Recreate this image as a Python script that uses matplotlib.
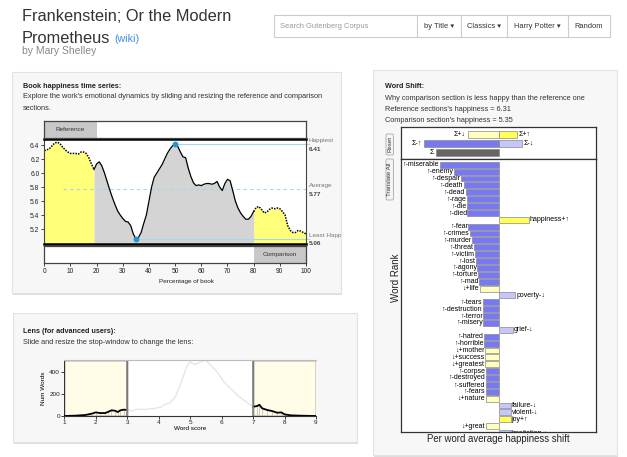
import matplotlib
matplotlib.use("Agg")
import matplotlib.pyplot as plt
import matplotlib.transforms as mtransforms
from matplotlib.patches import Rectangle, FancyBboxPatch
import numpy as np

# --- data ---
book_title = "Frankenstein; Or the Modern"
book_title2 = "Prometheus"
author = "by Mary Shelley"

# happiness time series (percentage of book, average happiness)
pct = np.arange(0, 101)
happiness = np.array([
    6.32, 6.33, 6.35, 6.39, 6.43, 6.44, 6.42, 6.37, 6.33, 6.30,
    6.28, 6.28, 6.28, 6.27, 6.30, 6.30, 6.28, 6.22, 6.13, 6.05,
    6.13, 6.16, 6.10, 6.00, 5.88, 5.76, 5.65, 5.55, 5.46, 5.40,
    5.35, 5.31, 5.30, 5.25, 5.13, 5.06, 5.08, 5.15, 5.28, 5.40,
    5.60, 5.80, 5.94, 6.00, 6.06, 6.12, 6.20, 6.28, 6.34, 6.39,
    6.41, 6.38, 6.30, 6.23, 6.22, 6.07, 5.95, 5.86, 5.82, 5.83,
    5.82, 5.84, 5.85, 5.85, 5.84, 5.85, 5.88, 5.80, 5.75, 5.85,
    5.91, 5.89, 5.75, 5.60, 5.50, 5.43, 5.38, 5.34, 5.34, 5.38,
    5.45, 5.51, 5.52, 5.48, 5.43, 5.44, 5.48, 5.50, 5.49, 5.50,
    5.49, 5.45, 5.40, 5.25, 5.18, 5.15, 5.15, 5.18, 5.17, 5.15,
    5.13])
average_happiness = 5.77
ref_window = (0, 19)
comp_window = (80, 100)

# lens: word score distribution
lens_score = [1.0, 1.34, 1.66, 1.87, 2.0, 2.14, 2.3, 2.4, 2.5, 2.62, 2.7, 2.78, 2.89,
              3.0, 3.13, 3.3, 3.57, 3.89, 4.1, 4.2, 4.37, 4.53, 4.74, 4.9, 5.0, 5.15,
              5.3, 5.49, 5.65, 5.86, 6.07, 6.28, 6.5, 6.71, 6.92, 7.0, 7.13, 7.2,
              7.29, 7.45, 7.61, 7.77, 7.9, 8.0, 8.2, 8.5, 9.0]
lens_count = [0, 3, 9, 21, 33, 27, 27, 39, 52, 48, 36, 52, 58,
              55, 45, 61, 61, 70, 85, 106, 121, 176, 327, 460, 495, 470,
              490, 515, 464, 403, 312, 252, 191, 145, 100, 85, 91, 103,
              70, 55, 45, 30, 33, 15, 6, 3, 0]
lens_stop = (3, 7)

# word shift
ref_happiness = 6.31
comp_happiness = 5.35
sum_labels = ["Σ+↓", "Σ+↑", "Σ-↑", "Σ-↓", "Σ"]
sum_values = [-0.315, 0.185, -0.768, 0.236, -0.646]
sum_rows = [0, 0, 1, 1, 2]
sum_kinds = ["pos_down", "pos_up", "neg_up", "neg_down", "total"]

words = ["miserable", "enemy", "despair", "death", "dead", "rage", "die", "died",
         "happiness", "fear", "crimes", "murder", "threat", "victim", "lost", "agony",
         "torture", "mad", "life", "poverty", "tears", "destruction", "terror", "misery",
         "grief", "hatred", "horrible", "mother", "success", "greatest", "corpse",
         "destroyed", "suffered", "fears", "nature", "failure", "violent", "joy", "great",
         "hesitation"]
shifts = [-0.602, -0.455, -0.386, -0.356, -0.338, -0.328, -0.322, -0.318,
          0.314, -0.308, -0.295, -0.267, -0.251, -0.244, -0.233, -0.216,
          -0.210, -0.199, -0.192, 0.174, -0.164, -0.164, -0.157, -0.157,
          0.150, -0.147, -0.147, -0.140, -0.140, -0.137, -0.133,
          -0.133, -0.133, -0.133, -0.130, 0.128, 0.128, 0.125, -0.130,
          0.13]
kinds = ["neg_up"] * 8 + ["pos_up"] + ["neg_up"] * 9 + ["pos_down", "neg_down"] + \
        ["neg_up"] * 4 + ["neg_down"] + ["neg_up"] * 2 + ["pos_down"] * 3 + \
        ["neg_up"] * 4 + ["pos_down", "neg_down", "neg_down", "pos_up", "pos_down", "neg_down"]

kind_colors = {"neg_up": "#7878f2", "neg_down": "#c6c6fb", "pos_up": "#ffff55",
               "pos_down": "#ffffbe", "total": "#666666"}

# --- figure ---
W, H = 627, 457
plt.rcParams["font.family"] = ["Liberation Sans", "DejaVu Sans"]
fig = plt.figure(figsize=(W / 100, H / 100), dpi=100, facecolor="white")

bg = fig.add_axes([0, 0, 1, 1])
bg.set_xlim(0, W)
bg.set_ylim(H, 0)
bg.axis("off")


def px_axes(x0, y0, x1, y1):
    return fig.add_axes([x0 / W, 1 - y1 / H, (x1 - x0) / W, (y1 - y0) / H])


def card(x0, y0, x1, y1):
    bg.add_patch(Rectangle((x0 + 1, y0 + 2), x1 - x0, y1 - y0, fc="#dedede", ec="none"))
    r = Rectangle((x0, y0), x1 - x0, y1 - y0, fc="#f7f7f7", ec="#e3e3e3", lw=0.8)
    bg.add_patch(r)
    return r


TXT = 5.35   # body text size of the panels
SMALL = 4.6  # chart annotations

# header
bg.text(22, 16.5, book_title, fontsize=11.8, color="#333333", va="center")
bg.text(22, 38.5, book_title2, fontsize=11.8, color="#333333", va="center")
bg.text(114, 39.5, "(wiki)", fontsize=7.7, color="#3a8fd9", va="center")
bg.text(22, 51.5, author, fontsize=7.5, color="#888888", va="center")

# search bar
bg.add_patch(Rectangle((274, 15), 336, 22, fc="white", ec="#cccccc", lw=0.8))
for xd in [417, 461, 507, 568]:
    bg.plot([xd, xd], [15, 37], color="#cccccc", lw=0.8)
bg.text(280, 26, "Search Gutenberg Corpus", fontsize=5.4, color="#999999", va="center")
for xc, lab in [(439, "by Title ▾"), (484, "Classics ▾"), (537.5, "Harry Potter ▾"), (589, "Random")]:
    bg.text(xc, 26, lab, fontsize=5.4, color="#333333", va="center", ha="center")

c1 = card(12, 72, 341, 293)
c2 = card(13, 313, 357, 442)
c3 = card(373, 70, 617, 455)

# --- time series panel ---
bg.text(23, 86, "Book happiness time series:", fontsize=5.2, weight="bold", color="#222222", va="center")
bg.text(23, 97, "Explore the work's emotional dynamics by sliding and resizing the reference and comparison",
        fontsize=TXT, color="#333333", va="center")
bg.text(23, 108, "sections.", fontsize=TXT, color="#333333", va="center")

ax = px_axes(44.3, 139, 306, 244)
ylo, yhi = 4.986, 6.486
ax.set_xlim(0, 100)
ax.set_ylim(ylo, yhi)
ref = pct <= ref_window[1]
comp = pct >= comp_window[0]
mid = (pct >= ref_window[1]) & (pct <= comp_window[0])
ax.fill_between(pct[ref], happiness[ref], ylo, color="#ffff7a", lw=0)
ax.fill_between(pct[comp], happiness[comp], ylo, color="#ffff7a", lw=0)
ax.fill_between(pct[mid], happiness[mid], ylo, color="#d4d4d4", lw=0)
ax.plot(pct[mid], happiness[mid], color="black", lw=0.9)
ax.plot(pct[ref], happiness[ref], color="black", lw=1.1, ls=(0, (1, 0.8)))
ax.plot(pct[comp], happiness[comp], color="black", lw=1.1, ls=(0, (1, 0.8)))

# extremes are marked on the solid (non-window) part of the curve
mid_idx = np.where(mid)[0]
imax = mid_idx[np.argmax(happiness[mid])]
imin = mid_idx[np.argmin(happiness[mid])]
line_c = "#a9d6e8"
ax.plot([pct[imax], 101], [happiness[imax]] * 2, color=line_c, lw=0.8, clip_on=False, zorder=1)
ax.plot([pct[imin], 101], [happiness[imin]] * 2, color=line_c, lw=0.8, clip_on=False, zorder=1)
ax.plot([7, 101], [average_happiness] * 2, color=line_c, lw=0.8, ls=(0, (3, 3)), clip_on=False, zorder=1)
ax.plot([pct[imax], pct[imin]], [happiness[imax], happiness[imin]], "o", color="#1e96cf", ms=3.2, zorder=5)

bt = mtransforms.blended_transform_factory(ax.transAxes, ax.transData)
for lab, val in [("Happiest", happiness[imax]), ("Average", average_happiness), ("Least Happy", happiness[imin])]:
    t1 = ax.annotate(lab, xy=(1.0, val), xycoords=bt, xytext=(2, 2.4), textcoords="offset points",
                     fontsize=SMALL, color="#777777", va="center", annotation_clip=False)
    t2 = ax.annotate(f"{val:.2f}", xy=(1.0, val), xycoords=bt, xytext=(2, -3.6), textcoords="offset points",
                     fontsize=SMALL, color="#444444", weight="bold", va="center", annotation_clip=False)
    t1.set_clip_path(c1)
    t2.set_clip_path(c1)

ax.set_xticks([])
ax.set_yticks(np.arange(5.2, 6.41, 0.2))
ax.set_yticklabels([f"{v:.1f}" for v in np.arange(5.2, 6.41, 0.2)])
ax.tick_params(axis="y", labelsize=4.8, length=2, width=0.6, pad=1.5, colors="#222222")
for s in ["top", "bottom"]:
    ax.spines[s].set_linewidth(1.8)
    ax.spines[s].set_color("black")
for s in ["left", "right"]:
    ax.spines[s].set_linewidth(0.8)
    ax.spines[s].set_color("#444444")

ref_ax = px_axes(44.3, 120.7, 306, 138)
ref_ax.set_xlim(0, 100)
ref_ax.set_ylim(0, 1)
ref_ax.add_patch(Rectangle((0, 0), 20, 1, fc="#c8c8c8", ec="none"))
ref_ax.text(10, 0.5, "Reference", fontsize=SMALL, ha="center", va="center", color="#333333")
ref_ax.set_xticks([])
ref_ax.set_yticks([])

cmp_ax = px_axes(44.3, 245.7, 306, 263)
cmp_ax.set_xlim(0, 100)
cmp_ax.set_ylim(0, 1)
cmp_ax.add_patch(Rectangle((comp_window[0], 0), comp_window[1] - comp_window[0], 1, fc="#c8c8c8", ec="none"))
cmp_ax.text(90, 0.5, "Comparison", fontsize=SMALL, ha="center", va="center", color="#333333")
cmp_ax.set_yticks([])
cmp_ax.set_xticks(np.arange(0, 101, 10))
cmp_ax.tick_params(axis="x", labelsize=4.8, length=2.5, width=0.6, pad=1, colors="#222222")
for a in [ref_ax, cmp_ax]:
    for s in a.spines.values():
        s.set_linewidth(0.9)
        s.set_color("#444444")
bg.text(186, 281, "Percentage of book", fontsize=SMALL, ha="center", va="center", color="#222222")

# --- lens panel ---
bg.text(23, 331.5, "Lens (for advanced users):", fontsize=5.2, weight="bold", color="#222222", va="center")
bg.text(23, 342.5, "Slide and resize the stop-window to change the lens:", fontsize=TXT, color="#333333", va="center")

lx = px_axes(64.3, 360, 316, 416)
lx.set_facecolor("white")
lx.set_xlim(1, 9)
lx.set_ylim(0, 513)
lx.add_patch(Rectangle((1, 0), lens_stop[0] - 1, 513, fc="#fffde8", ec="#333333", lw=1, zorder=0.5))
lx.add_patch(Rectangle((lens_stop[1], 0), 9 - lens_stop[1], 513, fc="#fffde8", ec="#333333", lw=1, zorder=0.5))
ls_arr = np.array(lens_score)
lc_arr = np.array(lens_count)
lmid = (ls_arr >= lens_stop[0]) & (ls_arr <= lens_stop[1])
llo = ls_arr <= lens_stop[0]
lhi = ls_arr >= lens_stop[1]
lx.plot(ls_arr[lmid], lc_arr[lmid], color="#e6e6e6", lw=1)
lx.vlines(ls_arr[llo | lhi], 0, lc_arr[llo | lhi], color="#bbbbbb", lw=0.5)
lx.plot(ls_arr[llo], lc_arr[llo], color="black", lw=1.3)
lx.plot(ls_arr[lhi], lc_arr[lhi], color="black", lw=1.3)
lx.axvline(lens_stop[0], color="#888888", lw=1.2)
lx.axvline(lens_stop[1], color="#888888", lw=1.2)
lx.set_xticks(range(1, 10))
lx.set_yticks([0, 200, 400])
lx.tick_params(labelsize=SMALL, length=2, width=0.6, pad=1, colors="#222222")
lx.set_xlabel("Word score", fontsize=SMALL, labelpad=0.5)
lx.set_ylabel("Num Words", fontsize=SMALL, labelpad=2)
lx.spines["top"].set_color("#bbbbbb")
lx.spines["right"].set_visible(False)
lx.spines["left"].set_visible(False)
lx.spines["bottom"].set_color("#333333")

# --- word shift panel ---
bg.text(385, 86, "Word Shift:", fontsize=5.2, weight="bold", color="#222222", va="center")
bg.text(385, 98, "Why comparison section is less happy than the reference one", fontsize=TXT, color="#333333", va="center")
bg.text(385, 109.5, f"Reference sections's happiness = {ref_happiness:.2f}", fontsize=TXT, color="#333333", va="center")
bg.text(385, 121, f"Comparison section's happiness = {comp_happiness:.2f}", fontsize=TXT, color="#333333", va="center")

for (y0, y1, lab) in [(134, 155, "Reset"), (159, 200, "Translate All")]:
    bg.add_patch(FancyBboxPatch((386, y0), 7.5, y1 - y0, boxstyle="round,pad=0,rounding_size=1.5",
                                fc="#f4f4f4", ec="#aaaaaa", lw=0.6))
    bg.text(389.8, (y0 + y1) / 2, lab, rotation=90, fontsize=4.4, ha="center", va="center", color="#333333")

sx = px_axes(401, 126.7, 596, 159)
sx.set_xlim(-1, 1)
sx.set_ylim(2.68, -0.83)
for lab, val, row, kd in zip(sum_labels, sum_values, sum_rows, sum_kinds):
    sx.barh(row, val, height=0.8, color=kind_colors[kd], edgecolor="#888888", lw=0.5)
    if val < 0:
        sx.text(val - 0.02, row, lab, fontsize=5, ha="right", va="center")
    else:
        sx.text(val + 0.02, row, lab, fontsize=5, ha="left", va="center")
sx.set_xticks([])
sx.set_yticks([])

wx = px_axes(401, 159, 596, 432)
wx.set_xlim(-1, 1)
wx.set_ylim(38.85, -0.83)
for i, (w, val, kd) in enumerate(zip(words, shifts, kinds)):
    wx.barh(i, val, height=0.86, color=kind_colors[kd], edgecolor="#888888", lw=0.5)
    arrow = "↑" if kd in ("neg_up", "pos_up") else "↓"
    sign = "-" if kd.startswith("neg") else "+"
    if val < 0:
        wx.text(val - 0.008, i, f"{arrow}{sign}{w}", fontsize=5, ha="right", va="center", clip_on=True)
    else:
        wx.text(val + 0.008, i, f"{w}{sign}{arrow}", fontsize=5, ha="left", va="center", clip_on=True)
wx.set_xticks([])
wx.set_yticks([])
for a in [sx, wx]:
    for s in a.spines.values():
        s.set_linewidth(0.9)
        s.set_color("#333333")

bg.text(396, 278, "Word Rank", rotation=90, fontsize=7.0, ha="center", va="center", color="#222222")
bg.text(498.5, 439, "Per word average happiness shift", fontsize=6.9, ha="center", va="center", color="#222222")

fig.savefig("out.png", dpi=100, facecolor="white")
